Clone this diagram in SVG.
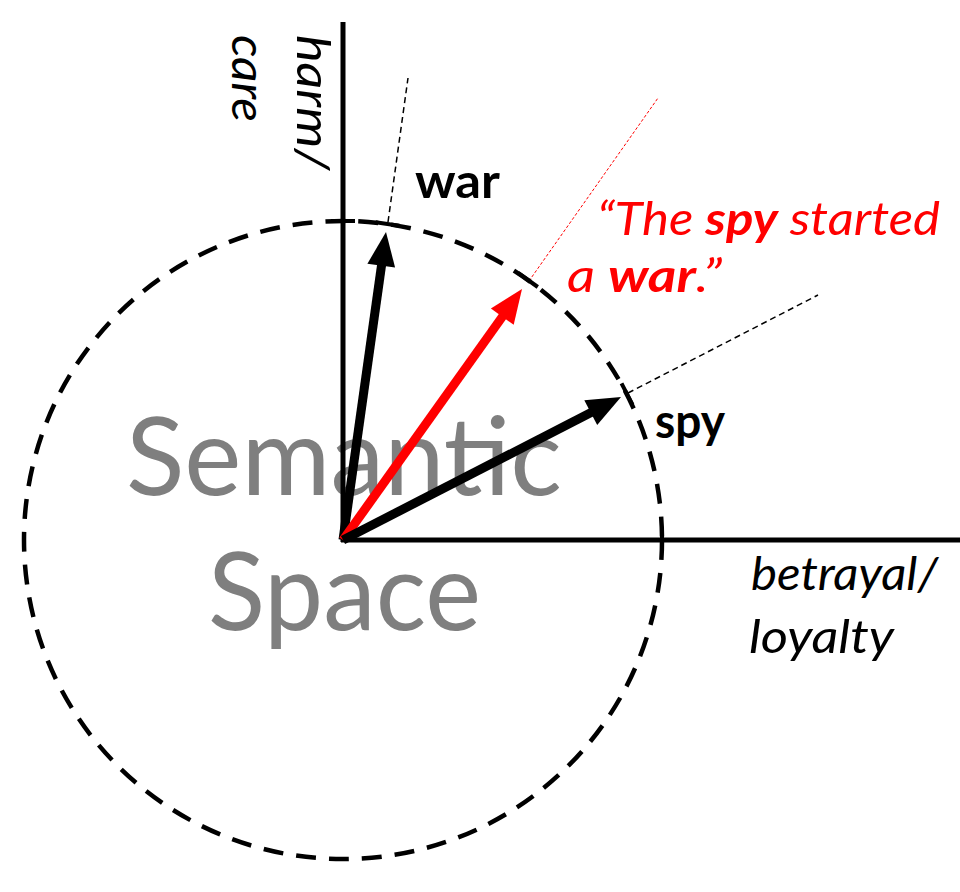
<svg xmlns="http://www.w3.org/2000/svg" width="960" height="892" viewBox="0 0 960 892">
<style>
.lbl{font-family:Lato,"Open Sans","Liberation Sans",sans-serif;}
.it{font-style:italic;}
.bd{font-weight:bold;}
.axis{stroke:#000;stroke-width:5;fill:none;}
.tick{stroke:#000;stroke-width:4;fill:none;}
.ext{stroke:#000;stroke-width:1.5;stroke-dasharray:6 4;fill:none;}
.vec{stroke-width:9;fill:none;}
</style>
<rect width="960" height="892" fill="#fff"/>
<g id="background-label">
<text class="lbl" x="126" y="495" font-size="108" fill="#7f7f7f" textLength="436" lengthAdjust="spacingAndGlyphs">Semantic</text>
<text class="lbl" x="208" y="630" font-size="108" fill="#7f7f7f" textLength="273" lengthAdjust="spacingAndGlyphs">Space</text>
</g>
<g id="circle">
<circle cx="343" cy="540" r="319" fill="none" stroke="#000" stroke-width="4.5" stroke-dasharray="20 13"/>
</g>
<g id="axes">
<line class="axis" x1="343" y1="22" x2="343" y2="542"/>
<line class="axis" x1="341" y1="540" x2="960" y2="540"/>
<g id="axis-y-label" class="lbl it" font-size="46" fill="#000" transform="translate(297,35) rotate(90)">
<text x="0" y="0" textLength="135" lengthAdjust="spacingAndGlyphs">harm/</text>
<text x="0" y="65" textLength="87" lengthAdjust="spacingAndGlyphs">care</text>
</g>
<g id="axis-x-label" class="lbl it" font-size="46" fill="#000">
<text x="751" y="590" textLength="187" lengthAdjust="spacingAndGlyphs">betrayal/</text>
<text x="749" y="653" textLength="145" lengthAdjust="spacingAndGlyphs">loyalty</text>
</g>
</g>
<g id="connectors">
<line class="ext" x1="388" y1="222" x2="408" y2="78"/>
<line x1="529" y1="281" x2="658" y2="98" stroke="#f00" stroke-width="1" stroke-dasharray="3 2"/>
<line class="ext" x1="628" y1="393" x2="818" y2="295"/>
<line class="tick" x1="331" y1="221" x2="355" y2="221"/>
<line class="tick" x1="662" y1="528" x2="662" y2="552"/>
<line class="tick" x1="375.6" y1="222.3" x2="399.4" y2="225.7"/>
<line class="tick" x1="518.2" y1="273" x2="537.8" y2="287"/>
<line class="tick" x1="621.5" y1="383.3" x2="632.5" y2="404.7"/>
</g>
<g id="war-vector">
<line class="vec" stroke="#000" x1="343" y1="540" x2="382" y2="262"/>
<polygon points="386,232 395.1,267.6 367.4,263.7" fill="#000"/>
</g>
<g id="sentence-vector">
<line class="vec" stroke="#f00" x1="343" y1="540" x2="505" y2="313"/>
<polygon points="522,289 513.7,324.8 490.9,308.6" fill="#f00"/>
</g>
<g id="spy-vector">
<line class="vec" stroke="#000" x1="343" y1="540" x2="594" y2="411"/>
<polygon points="621,397 597.2,425.1 584.3,400.2" fill="#000"/>
</g>
<g id="war">
<text class="lbl bd" x="415" y="198" font-size="48" fill="#000" textLength="85" lengthAdjust="spacingAndGlyphs">war</text>
</g>
<g id="spy">
<text class="lbl bd" x="655" y="438" font-size="48" fill="#000" textLength="70" lengthAdjust="spacingAndGlyphs">spy</text>
</g>
<g id="sentence" class="lbl it" font-size="46" fill="#f00">
<text x="597" y="235" textLength="343" lengthAdjust="spacingAndGlyphs">“The <tspan class="bd">spy</tspan> started</text>
<text x="567" y="292" textLength="155" lengthAdjust="spacingAndGlyphs">a <tspan class="bd">war</tspan>.”</text>
</g>
</svg>
